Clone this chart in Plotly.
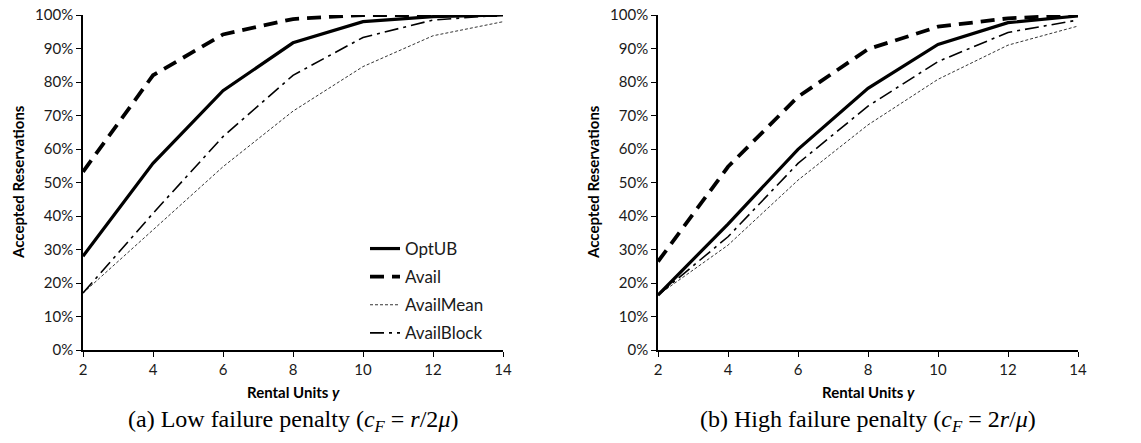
import plotly.graph_objects as go

# ---- data ----
units = [2, 4, 6, 8, 10, 12, 14]

low_optub = [28.0, 55.7, 77.4, 91.7, 98.0, 99.5, 100.0]
low_avail = [53.2, 82.0, 94.2, 98.8, 100.0, 100.0, 100.0]
low_availmean = [17.0, 36.0, 54.7, 71.3, 84.6, 93.8, 98.0]
low_availblock = [17.0, 40.8, 63.7, 82.0, 93.3, 98.5, 100.0]

high_optub = [16.4, 37.6, 59.9, 78.1, 91.2, 97.7, 99.7]
high_avail = [26.4, 54.7, 75.6, 89.8, 96.5, 99.0, 100.0]
high_availmean = [16.4, 31.3, 50.7, 67.2, 80.8, 91.0, 96.7]
high_availblock = [16.4, 33.8, 55.7, 72.8, 86.1, 94.8, 98.5]

series_names = ["OptUB", "Avail", "AvailMean", "AvailBlock"]
x_ticks = [2, 4, 6, 8, 10, 12, 14]
y_ticks = [0, 10, 20, 30, 40, 50, 60, 70, 80, 90, 100]
y_ticklabels = ["0%", "10%", "20%", "30%", "40%", "50%", "60%", "70%", "80%", "90%", "100%"]
captions = ["(a) Low failure penalty (<i>c</i><sub><i>F</i></sub> = <i>r</i>/2<i>μ</i>)",
            "(b) High failure penalty (<i>c</i><sub><i>F</i></sub> = 2<i>r</i>/<i>μ</i>)"]

# ---- styles ----
W, H = 1141, 443
styles = {
    "OptUB": dict(color="black", width=3.2, dash="solid"),
    "Avail": dict(color="black", width=3.8, dash="14px,8px"),
    "AvailMean": dict(color="black", width=0.8, dash="3px,2px"),
    "AvailBlock": dict(color="black", width=1.6, dash="14px,5px,3px,5px"),
}

fig = go.Figure()
panels = [
    ("x", "y", [low_optub, low_avail, low_availmean, low_availblock], True),
    ("x2", "y2", [high_optub, high_avail, high_availmean, high_availblock], False),
]
for xa, ya, data, show in panels:
    for name, vals in zip(series_names, data):
        fig.add_trace(go.Scatter(
            x=units, y=vals, mode="lines", name=name, xaxis=xa, yaxis=ya,
            line=styles[name], showlegend=show, legendgroup=name,
        ))

tick_font = dict(family="Lato, Carlito, sans-serif", size=15, color="#1a1a1a")
y0 = (H - 350) / H
y1 = (H - 15) / H
doms = [(83 / W, 503 / W), (658 / W, 1078 / W)]

axis_common = dict(showline=True, linecolor="black", linewidth=1.6, ticks="outside",
                   ticklen=5, tickwidth=1, tickcolor="black", showgrid=False,
                   zeroline=False, tickfont=tick_font, automargin=False)

fig.update_layout(
    width=W, height=H, margin=dict(l=0, r=0, t=0, b=0),
    paper_bgcolor="white", plot_bgcolor="white",
    xaxis=dict(domain=doms[0], range=[2, 14], tickvals=x_ticks, anchor="y", **axis_common),
    yaxis=dict(domain=[y0, y1], range=[0, 100], tickvals=y_ticks, ticktext=y_ticklabels,
               anchor="x", **axis_common),
    xaxis2=dict(domain=doms[1], range=[2, 14], tickvals=x_ticks, anchor="y2", **axis_common),
    yaxis2=dict(domain=[y0, y1], range=[0, 100], tickvals=y_ticks, ticktext=y_ticklabels,
                anchor="x2", **axis_common),
    legend=dict(x=365 / W, y=(H - 231) / H, xanchor="left", yanchor="top",
                bgcolor="rgba(0,0,0,0)", font=dict(family="Lato, sans-serif", size=17, color="#1a1a1a"),
                tracegroupgap=3, itemwidth=30),
    showlegend=True,
)

ann = []
for i, (d0, d1) in enumerate(doms):
    cx_plot = (d0 + d1) / 2
    # y axis title
    ann.append(dict(text="<b>Accepted Reservations</b>", xref="paper", yref="paper",
                    x=(18 + (575 if i else 0)) / W, y=(H - 182) / H, textangle=-90,
                    showarrow=False, xanchor="center", yanchor="middle",
                    font=dict(family="Lato, sans-serif", size=15, color="black")))
    # x axis title
    ann.append(dict(text="<b>Rental Units <i>y</i></b>", xref="paper", yref="paper",
                    x=cx_plot, y=(H - 392) / H, showarrow=False,
                    xanchor="center", yanchor="middle",
                    font=dict(family="Lato, sans-serif", size=15, color="black")))
    # caption
    ann.append(dict(text=captions[i], xref="paper", yref="paper",
                    x=cx_plot, y=(H - 421) / H, showarrow=False,
                    xanchor="center", yanchor="middle",
                    font=dict(family="Liberation Serif, serif", size=24, color="black")))
fig.update_layout(annotations=ann)

fig.write_html("out.html")
